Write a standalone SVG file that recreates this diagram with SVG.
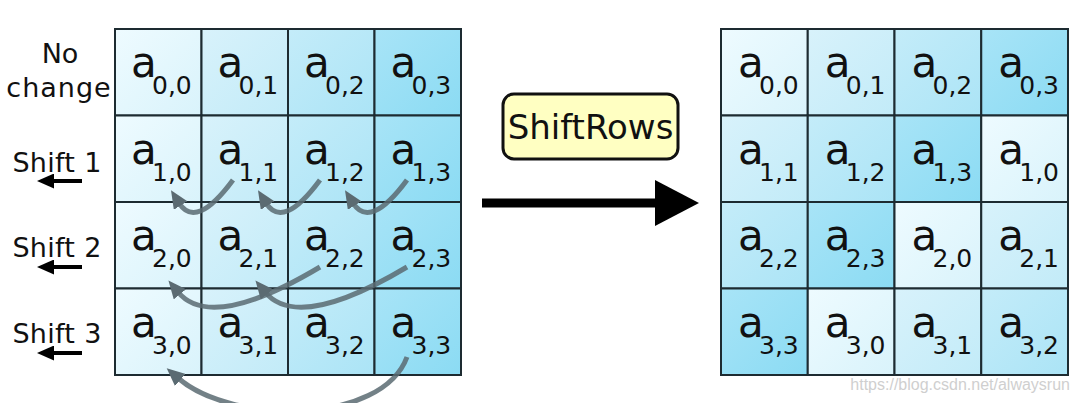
<svg xmlns="http://www.w3.org/2000/svg" width="1080" height="403" viewBox="0 0 1080 403">
<defs>
<linearGradient id="g0" x1="0" y1="0" x2="1" y2="1"><stop offset="0" stop-color="#eefbff"/><stop offset="1" stop-color="#d9f3fb"/></linearGradient>
<linearGradient id="g1" x1="0" y1="0" x2="1" y2="1"><stop offset="0" stop-color="#d8f2fb"/><stop offset="1" stop-color="#c2ebf8"/></linearGradient>
<linearGradient id="g2" x1="0" y1="0" x2="1" y2="1"><stop offset="0" stop-color="#c4ecf9"/><stop offset="1" stop-color="#abe4f6"/></linearGradient>
<linearGradient id="g3" x1="0" y1="0" x2="1" y2="1"><stop offset="0" stop-color="#a8e4f7"/><stop offset="1" stop-color="#8bdbf3"/></linearGradient>
<marker id="ga" viewBox="0 0 18 16" refX="3" refY="8" markerWidth="18" markerHeight="16" markerUnits="userSpaceOnUse" orient="auto">
<path d="M0,0 L18,8 L0,16 z" fill="#5b6b72"/>
</marker>
<marker id="ka" viewBox="0 0 17 15" refX="2" refY="7.5" markerWidth="17" markerHeight="15" markerUnits="userSpaceOnUse" orient="auto">
<path d="M0,0 L17,7.5 L0,15 z" fill="#000"/>
</marker>
</defs>
<style>
.c{stroke:#1d2b31;stroke-width:2}
.a{font-family:"DejaVu Sans",sans-serif;font-size:42px;fill:#111}
.s{font-family:"DejaVu Sans",sans-serif;font-size:25px;fill:#111}
.lb{font-family:"DejaVu Sans",sans-serif;font-size:27px;fill:#111}
.gc{fill:none;stroke:#5b6b72;stroke-width:5;stroke-opacity:0.85;marker-end:url(#ga)}
</style>
<rect width="1080" height="403" fill="#fff"/>

<g id="labels">
<g id="lbl-nochange"><text class="lb" x="60" y="63" text-anchor="middle">No</text><text class="lb" x="59" y="97" text-anchor="middle" letter-spacing="1">change</text></g>
<g id="lbl-shift1"><text class="lb" x="57" y="172" text-anchor="middle" letter-spacing="0.3">Shift 1</text><line x1="82" y1="181" x2="52" y2="181" stroke="#000" stroke-width="4" marker-end="url(#ka)"/></g>
<g id="lbl-shift2"><text class="lb" x="57" y="257" text-anchor="middle" letter-spacing="0.3">Shift 2</text><line x1="82" y1="267" x2="52" y2="267" stroke="#000" stroke-width="4" marker-end="url(#ka)"/></g>
<g id="lbl-shift3"><text class="lb" x="57" y="343" text-anchor="middle" letter-spacing="0.3">Shift 3</text><line x1="82" y1="353" x2="52" y2="353" stroke="#000" stroke-width="4" marker-end="url(#ka)"/></g>
</g>

<g id="left-grid">
<g id="L00"><rect class="c" x="115" y="29" width="86.5" height="86.5" fill="url(#g0)"/><text class="a" x="131" y="77">a</text><text class="s" x="152" y="94">0,0</text></g>
<g id="L01"><rect class="c" x="201.5" y="29" width="86.5" height="86.5" fill="url(#g1)"/><text class="a" x="217.5" y="77">a</text><text class="s" x="238.5" y="94">0,1</text></g>
<g id="L02"><rect class="c" x="288" y="29" width="86.5" height="86.5" fill="url(#g2)"/><text class="a" x="304" y="77">a</text><text class="s" x="325" y="94">0,2</text></g>
<g id="L03"><rect class="c" x="374.5" y="29" width="86.5" height="86.5" fill="url(#g3)"/><text class="a" x="390.5" y="77">a</text><text class="s" x="411.5" y="94">0,3</text></g>

<g id="L10"><rect class="c" x="115" y="115.5" width="86.5" height="86.5" fill="url(#g0)"/><text class="a" x="131" y="163.5">a</text><text class="s" x="152" y="180.5">1,0</text></g>
<g id="L11"><rect class="c" x="201.5" y="115.5" width="86.5" height="86.5" fill="url(#g1)"/><text class="a" x="217.5" y="163.5">a</text><text class="s" x="238.5" y="180.5">1,1</text></g>
<g id="L12"><rect class="c" x="288" y="115.5" width="86.5" height="86.5" fill="url(#g2)"/><text class="a" x="304" y="163.5">a</text><text class="s" x="325" y="180.5">1,2</text></g>
<g id="L13"><rect class="c" x="374.5" y="115.5" width="86.5" height="86.5" fill="url(#g3)"/><text class="a" x="390.5" y="163.5">a</text><text class="s" x="411.5" y="180.5">1,3</text></g>

<g id="L20"><rect class="c" x="115" y="202" width="86.5" height="86.5" fill="url(#g0)"/><text class="a" x="131" y="250">a</text><text class="s" x="152" y="267">2,0</text></g>
<g id="L21"><rect class="c" x="201.5" y="202" width="86.5" height="86.5" fill="url(#g1)"/><text class="a" x="217.5" y="250">a</text><text class="s" x="238.5" y="267">2,1</text></g>
<g id="L22"><rect class="c" x="288" y="202" width="86.5" height="86.5" fill="url(#g2)"/><text class="a" x="304" y="250">a</text><text class="s" x="325" y="267">2,2</text></g>
<g id="L23"><rect class="c" x="374.5" y="202" width="86.5" height="86.5" fill="url(#g3)"/><text class="a" x="390.5" y="250">a</text><text class="s" x="411.5" y="267">2,3</text></g>

<g id="L30"><rect class="c" x="115" y="288.5" width="86.5" height="86.5" fill="url(#g0)"/><text class="a" x="131" y="336.5">a</text><text class="s" x="152" y="353.5">3,0</text></g>
<g id="L31"><rect class="c" x="201.5" y="288.5" width="86.5" height="86.5" fill="url(#g1)"/><text class="a" x="217.5" y="336.5">a</text><text class="s" x="238.5" y="353.5">3,1</text></g>
<g id="L32"><rect class="c" x="288" y="288.5" width="86.5" height="86.5" fill="url(#g2)"/><text class="a" x="304" y="336.5">a</text><text class="s" x="325" y="353.5">3,2</text></g>
<g id="L33"><rect class="c" x="374.5" y="288.5" width="86.5" height="86.5" fill="url(#g3)"/><text class="a" x="390.5" y="336.5">a</text><text class="s" x="411.5" y="353.5">3,3</text></g>
</g>

<g id="right-grid">
<g id="R00"><rect class="c" x="721" y="29" width="86.75" height="86.5" fill="url(#g0)"/><text class="a" x="738" y="77">a</text><text class="s" x="759" y="94">0,0</text></g>
<g id="R01"><rect class="c" x="807.75" y="29" width="86.75" height="86.5" fill="url(#g1)"/><text class="a" x="824.75" y="77">a</text><text class="s" x="845.75" y="94">0,1</text></g>
<g id="R02"><rect class="c" x="894.5" y="29" width="86.75" height="86.5" fill="url(#g2)"/><text class="a" x="911.5" y="77">a</text><text class="s" x="932.5" y="94">0,2</text></g>
<g id="R03"><rect class="c" x="981.25" y="29" width="86.75" height="86.5" fill="url(#g3)"/><text class="a" x="998.25" y="77">a</text><text class="s" x="1019.25" y="94">0,3</text></g>

<g id="R10"><rect class="c" x="721" y="115.5" width="86.75" height="86.5" fill="url(#g1)"/><text class="a" x="738" y="163.5">a</text><text class="s" x="759" y="180.5">1,1</text></g>
<g id="R11"><rect class="c" x="807.75" y="115.5" width="86.75" height="86.5" fill="url(#g2)"/><text class="a" x="824.75" y="163.5">a</text><text class="s" x="845.75" y="180.5">1,2</text></g>
<g id="R12"><rect class="c" x="894.5" y="115.5" width="86.75" height="86.5" fill="url(#g3)"/><text class="a" x="911.5" y="163.5">a</text><text class="s" x="932.5" y="180.5">1,3</text></g>
<g id="R13"><rect class="c" x="981.25" y="115.5" width="86.75" height="86.5" fill="url(#g0)"/><text class="a" x="998.25" y="163.5">a</text><text class="s" x="1019.25" y="180.5">1,0</text></g>

<g id="R20"><rect class="c" x="721" y="202" width="86.75" height="86.5" fill="url(#g2)"/><text class="a" x="738" y="250">a</text><text class="s" x="759" y="267">2,2</text></g>
<g id="R21"><rect class="c" x="807.75" y="202" width="86.75" height="86.5" fill="url(#g3)"/><text class="a" x="824.75" y="250">a</text><text class="s" x="845.75" y="267">2,3</text></g>
<g id="R22"><rect class="c" x="894.5" y="202" width="86.75" height="86.5" fill="url(#g0)"/><text class="a" x="911.5" y="250">a</text><text class="s" x="932.5" y="267">2,0</text></g>
<g id="R23"><rect class="c" x="981.25" y="202" width="86.75" height="86.5" fill="url(#g1)"/><text class="a" x="998.25" y="250">a</text><text class="s" x="1019.25" y="267">2,1</text></g>

<g id="R30"><rect class="c" x="721" y="288.5" width="86.75" height="86.5" fill="url(#g3)"/><text class="a" x="738" y="336.5">a</text><text class="s" x="759" y="353.5">3,3</text></g>
<g id="R31"><rect class="c" x="807.75" y="288.5" width="86.75" height="86.5" fill="url(#g0)"/><text class="a" x="824.75" y="336.5">a</text><text class="s" x="845.75" y="353.5">3,0</text></g>
<g id="R32"><rect class="c" x="894.5" y="288.5" width="86.75" height="86.5" fill="url(#g1)"/><text class="a" x="911.5" y="336.5">a</text><text class="s" x="932.5" y="353.5">3,1</text></g>
<g id="R33"><rect class="c" x="981.25" y="288.5" width="86.75" height="86.5" fill="url(#g2)"/><text class="a" x="998.25" y="336.5">a</text><text class="s" x="1019.25" y="353.5">3,2</text></g>
</g>

<g id="shiftrows-box">
<rect x="503" y="94" width="175" height="65" rx="11" fill="#ffffc2" stroke="#111" stroke-width="3"/>
<text x="590.5" y="139" text-anchor="middle" font-family="DejaVu Sans, sans-serif" font-size="34" fill="#111">ShiftRows</text>
</g>

<g id="connectors">
<path class="gc" d="M233 180 Q196 230 179 203"/>
<path class="gc" d="M320 180 Q283 230 266 203"/>
<path class="gc" d="M407 180 Q370 230 353 203"/>
<path class="gc" d="M320 267 Q211 332 178 292"/>
<path class="gc" d="M407 267 Q298 332 265 292"/>
<path class="gc" d="M407 357 C382 425 232 425 178 378"/>
<g id="main-arrow">
<line x1="482" y1="203" x2="656" y2="203" stroke="#000" stroke-width="9"/>
<path d="M655 180 L699 203 L655 226 z" fill="#000"/>
</g>
</g>

<text x="1070" y="390" text-anchor="end" font-family="Liberation Sans, sans-serif" font-size="16" fill="#cfcfcf">https://blog.csdn.net/alwaysrun</text>
</svg>
